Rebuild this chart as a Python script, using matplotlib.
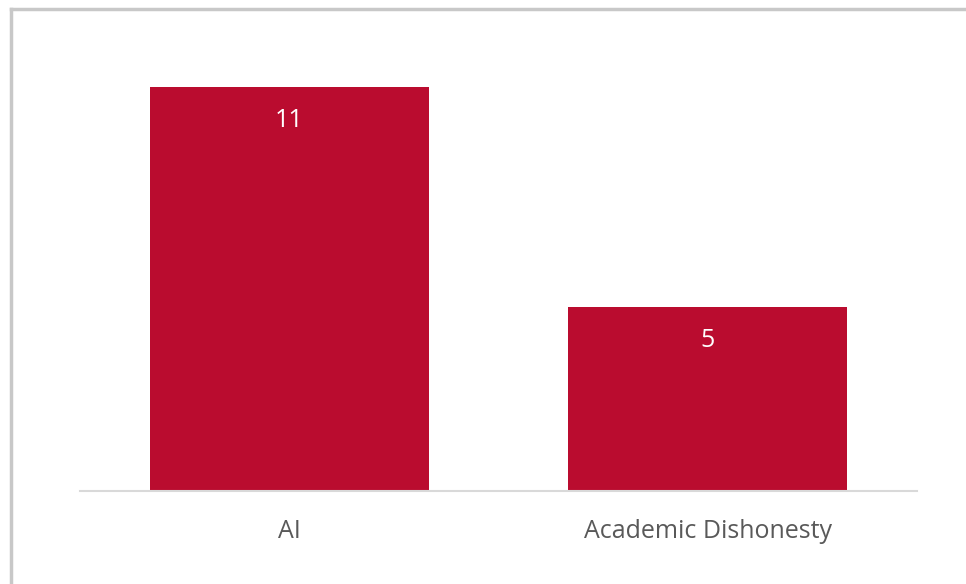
import matplotlib
matplotlib.use("Agg")
import matplotlib.pyplot as plt
from matplotlib.lines import Line2D

# data
categories = ["AI", "Academic Dishonesty"]
counts = [11, 5]

bar_color = "#BA0C2F"
text_color = "#595959"

plt.rcParams["font.family"] = ["Open Sans", "DejaVu Sans"]

W, H = 966, 584
fig = plt.figure(figsize=(W / 100, H / 100), dpi=100)

# axes placed in pixel coords: left 80, right 917, baseline 491
ymax = 12
px_per_unit = 404 / 11
top = 491 - ymax * px_per_unit
ax = fig.add_axes([80 / W, (H - 491) / H, (917 - 80) / W, (491 - top) / H])

x = range(len(categories))
bars = ax.bar(x, counts, width=0.666, color=bar_color, zorder=2)
ax.set_xlim(-0.5, 1.5)
ax.set_ylim(0, ymax)

for b, v in zip(bars, counts):
    ax.text(b.get_x() + b.get_width() / 2, v - 0.56, str(v), ha="center", va="top",
            color="white", fontsize=18)

ax.set_xticks(list(x))
ax.set_xticklabels(categories, fontsize=18, color=text_color)
ax.tick_params(axis="x", length=0, pad=20)
ax.set_yticks([])
for s in ["top", "right", "left"]:
    ax.spines[s].set_visible(False)
ax.spines["bottom"].set_color("#d9d9d9")
ax.spines["bottom"].set_linewidth(1.5)

# outer chart frame (top and left edges visible)
fig.add_artist(Line2D([11 / W, 11 / W], [0, 1 - 9 / H], color="#c8c8c8", lw=2.5,
                      transform=fig.transFigure))
fig.add_artist(Line2D([11 / W, 1], [1 - 9 / H, 1 - 9 / H], color="#c8c8c8", lw=2.5,
                      transform=fig.transFigure))

fig.savefig("out.png", dpi=100)
